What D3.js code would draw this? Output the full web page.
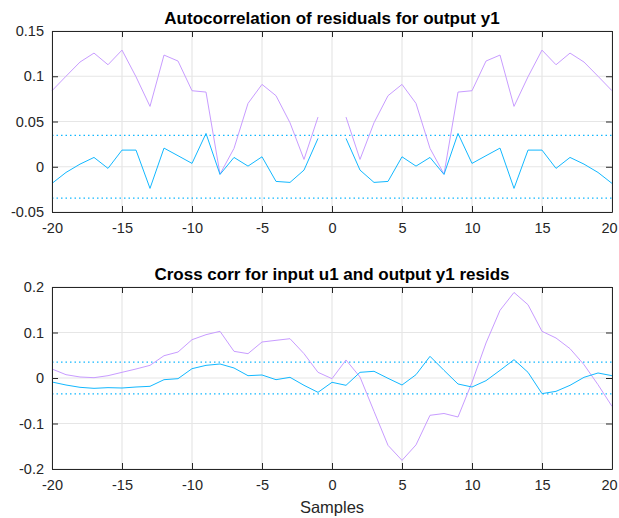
<!DOCTYPE html>
<html><head><meta charset="utf-8">
<script src="https://cdn.jsdelivr.net/npm/d3@7"></script>
<style>body{margin:0;background:#fff}svg{display:block}text{font-family:"Liberation Sans",Arial,sans-serif}</style>
</head><body><svg id="c" width="619" height="518"></svg>
<script>
// Autocorrelation, lags -20..-1 (mirrored for 1..20)
const acLagsNeg = d3.range(-20, 0);
const acPurpleNeg = [0.084,0.100,0.1157,0.1256,0.1127,0.1289,0.0994,0.0667,0.1234,0.1168,0.084,0.0825,-0.0081,0.0203,0.070,0.091,0.0785,0.0486,0.0081,0.0549];
const acBlueNeg = [-0.0184,-0.0063,0.0029,0.0103,-0.0018,0.0184,0.0184,-0.0239,0.0206,0.0122,0.0037,0.0368,-0.0085,0.0103,0.0007,0.011,-0.0162,-0.0173,-0.0037,0.0313];
// Cross correlation, lags -20..20
const ccLags = d3.range(-20, 21);
const ccPurple = [0.0198,0.0073,0.0022,0.0007,0.0051,0.0125,0.0198,0.0278,0.049,0.0571,0.0842,0.0952,0.1026,0.0586,0.0535,0.0791,0.0828,0.0864,0.0535,0.0125,-0.0015,0.0396,0.0022,-0.0733,-0.148,-0.181,-0.147,-0.082,-0.078,-0.0857,-0.0095,0.0769,0.1487,0.188,0.161,0.1026,0.0879,0.0645,0.0293,-0.0147,-0.0623];
const ccBlue = [-0.0088,-0.0154,-0.0205,-0.0227,-0.0212,-0.022,-0.0198,-0.0183,-0.0037,-0.0015,0.0205,0.0278,0.0308,0.022,0.0051,0.0066,-0.0037,0.0015,-0.0161,-0.0315,-0.0095,-0.0161,0.0125,0.0147,-0.0007,-0.0154,0.0073,0.0476,0.0168,-0.0132,-0.0198,-0.0059,0.0168,0.0403,0.0125,-0.0344,-0.0293,-0.0161,0.0015,0.011,0.0051];
const confBound = 0.0347;
const xTicks = [-20,-15,-10,-5,0,5,10,15,20];
const acYTicks = [-0.05,0,0.05,0.1,0.15];
const ccYTicks = [-0.2,-0.1,0,0.1,0.2];
const titles = ["Autocorrelation of residuals for output y1","Cross corr for input u1 and output y1 resids"];
const xLabel = "Samples";

const PURPLE = "#c89cff", BLUE = "#12b8ff";
const svg = d3.select("#c");
const L = 52, R = 612;
const fmt = d => String(+(+d).toFixed(2)); // plain hyphen-minus like the reference

function panel(top, bottom, yDomain, yTicks, title, series) {
  const x = d3.scaleLinear().domain([-20,20]).range([L,R]);
  const y = d3.scaleLinear().domain(yDomain).range([bottom,top]);
  const g = svg.append("g");
  g.selectAll(".gx").data(xTicks).join("line")
    .attr("x1",d=>x(d)).attr("x2",d=>x(d)).attr("y1",top).attr("y2",bottom)
    .attr("stroke","#e6e6e6").attr("stroke-width",1.2);
  g.selectAll(".gy").data(yTicks).join("line")
    .attr("y1",d=>y(d)).attr("y2",d=>y(d)).attr("x1",L).attr("x2",R)
    .attr("stroke","#e6e6e6").attr("stroke-width",1.2);
  [confBound,-confBound].forEach(v=>{
    g.append("line").attr("x1",L).attr("x2",R).attr("y1",y(v)).attr("y2",y(v))
      .attr("stroke",BLUE).attr("stroke-width",1.2).attr("stroke-dasharray","1.5,3");
  });
  const line = d3.line().x(d=>x(d[0])).y(d=>y(d[1]));
  series.forEach(s=>{
    s.segments.forEach(seg=>{
      g.append("path").attr("d",line(seg)).attr("fill","none")
        .attr("stroke",s.color).attr("stroke-width",1);
    });
  });
  const ax = (gen, tx, ty) => g.append("g").attr("transform",`translate(${tx},${ty})`).call(gen)
    .call(a=>a.select(".domain").attr("stroke","#262626"))
    .call(a=>a.selectAll(".tick line").attr("stroke","#262626"));
  ax(d3.axisBottom(x).tickValues(xTicks).tickSizeInner(-6).tickSizeOuter(0).tickPadding(11).tickFormat(fmt),0,bottom)
    .selectAll("text").attr("font-size",14.5).attr("fill","#262626")
    .attr("dx",d=>d===20 ? "-3" : null);
  ax(d3.axisTop(x).tickValues(xTicks).tickSizeInner(-6).tickSizeOuter(0).tickFormat(""),0,top);
  ax(d3.axisLeft(y).tickValues(yTicks).tickSizeInner(-6).tickSizeOuter(0).tickPadding(8).tickFormat(fmt),L,0)
    .selectAll("text").attr("font-size",14.5).attr("fill","#262626");
  ax(d3.axisRight(y).tickValues(yTicks).tickSizeInner(-6).tickSizeOuter(0).tickFormat(""),R,0);
  svg.append("text").attr("x",(L+R)/2).attr("y",top-7).attr("text-anchor","middle")
    .attr("font-size",17).attr("font-weight","bold").attr("fill","#000").text(title);
}

const acPosLags = acLagsNeg.map(d=>-d).reverse();
panel(31, 212, [-0.05,0.15], acYTicks, titles[0], [
  {color:PURPLE, segments:[acLagsNeg.map((l,i)=>[l,acPurpleNeg[i]]), acPosLags.map((l,i)=>[l,acPurpleNeg[acPurpleNeg.length-1-i]])]},
  {color:BLUE, segments:[acLagsNeg.map((l,i)=>[l,acBlueNeg[i]]), acPosLags.map((l,i)=>[l,acBlueNeg[acBlueNeg.length-1-i]])]}
]);
panel(287, 469, [-0.2,0.2], ccYTicks, titles[1], [
  {color:PURPLE, segments:[ccLags.map((l,i)=>[l,ccPurple[i]])]},
  {color:BLUE, segments:[ccLags.map((l,i)=>[l,ccBlue[i]])]}
]);
svg.append("text").attr("x",(L+R)/2).attr("y",513).attr("text-anchor","middle")
  .attr("font-size",16.5).attr("fill","#262626").text(xLabel);
</script></body></html>
